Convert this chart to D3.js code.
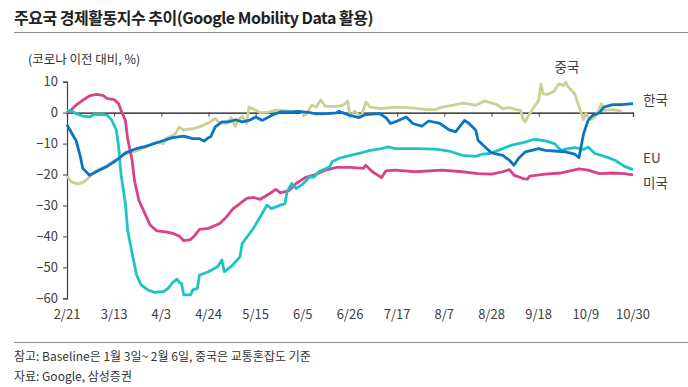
<!DOCTYPE html>
<html>
<head>
<meta charset="utf-8">
<script src="https://cdn.jsdelivr.net/npm/d3@7"></script>
<style>
  html, body { margin: 0; padding: 0; background: #fff; }
  svg { display: block; font-family: "Noto Sans CJK KR", "Noto Sans", sans-serif; }
</style>
</head>
<body>
<script>
// 데이터: [2020-02-21 이후 경과일, 코로나 이전 대비 %]
const startDay = "2020/02/21";

const korea = [
  [0,-3.9],[3,-7.8],[4,-8.9],[6,-14.3],[7,-18],[10,-20.2],[13,-19.1],[18,-17.3],[22,-15.4],[26,-13],
  [31,-11.6],[35,-10.9],[41,-9.5],[47,-8.1],[52,-7.6],[56,-8.4],[59,-8.4],[61,-9.2],[63,-8.1],[64,-7.8],
  [66,-4.6],[69,-3],[72,-3],[75,-2.3],[78,-3],[81,-2.5],[84,-1.4],[87,-2.5],[91,-0.9],[93,-0.3],
  [95,0.2],[99,0.2],[103,0.4],[108,0],[111,-0.4],[116,-0.3],[120,-0.1],[121,0.4],[126,-0.9],[130,-1.6],
  [133,-0.6],[139,-0.3],[142,-1.6],[144,-3.5],[146,-3],[151,-1.4],[154,-3.5],[158,-4.4],[161,-2.7],[166,-3.5],
  [170,-5.5],[173,-6.2],[177,-2.5],[179,-3.5],[182,-5.7],[183,-8.9],[186,-11],[189,-13],[194,-13.8],[197,-15.4],
  [199,-17],[201,-14.8],[204,-12.7],[207,-12.2],[210,-11.6],[213,-12.2],[217,-12.4],[222,-12.7],[226,-13.4],[228,-14.5],
  [229,-10.5],[230,-6.8],[232,-2.5],[234,-0.9],[237,-0.1],[239,1.8],[243,2.6],[247,2.6],[252,2.9]
];

const eu = [
  [0,0.5],[2,0.5],[4,-0.3],[7,-1.1],[10,-1.4],[12,-0.6],[16,-0.6],[18,-0.9],[20,-2.5],[22,-5.7],
  [23,-11.1],[24,-19.7],[26,-29.4],[27,-38],[29,-45.5],[31,-52.5],[33,-55.7],[36,-57.3],[39,-58.1],[43,-57.8],
  [45,-56.8],[47,-54.9],[49,-53.8],[50,-54.9],[51,-55.2],[52,-58.9],[55,-58.9],[56,-57.3],[58,-56.8],[59,-52.5],
  [63,-51.4],[67,-49.8],[69,-47.6],[70,-51.4],[73,-49.8],[77,-46.6],[78,-42.3],[83,-37.4],[86,-33.7],[89,-29.9],
  [91,-31],[95,-29.9],[97,-29.4],[98,-25.6],[100,-22.9],[102,-24.5],[105,-23.1],[108,-20.8],[110,-20.8],[112,-19.1],
  [117,-17.5],[118,-15.9],[121,-14.8],[126,-13.8],[130,-13.2],[135,-12.2],[140,-11.6],[143,-11.1],[146,-11.6],[155,-11.6],
  [164,-11.8],[170,-12.4],[176,-13.8],[182,-14.1],[185,-13.4],[188,-13.2],[192,-12.2],[198,-10.5],[204,-9.5],[208,-8.6],
  [213,-9.1],[217,-10],[220,-12.2],[223,-11.6],[226,-11.3],[230,-11.9],[232,-11.1],[235,-13.2],[240,-14.3],[244,-15.4],
  [248,-17.3],[252,-18.4]
];

const usa = [
  [0,0],[2,1],[4,2.4],[7,4],[10,5.4],[13,5.9],[16,5.6],[18,4.5],[21,4.2],[23,2.9],
  [24,0.8],[26,-2.5],[27,-8.4],[29,-15.4],[30,-21.8],[32,-28.3],[35,-33.1],[37,-36.3],[40,-38.2],[44,-38.5],
  [47,-39],[50,-39.9],[52,-41.4],[55,-41],[57,-39.6],[59,-37.7],[63,-37.4],[68,-35.8],[71,-33.7],[74,-31],
  [77,-29.4],[80,-27.7],[83,-27.4],[86,-28],[90,-26.3],[93,-24.8],[95,-25.9],[99,-25.1],[102,-22.9],[106,-21],
  [111,-19.9],[115,-18.6],[120,-17.7],[126,-17.7],[132,-18],[133,-17],[136,-19.1],[139,-20.5],[140,-21],[142,-18.8],
  [146,-18.6],[155,-19.1],[167,-18.6],[176,-19.1],[183,-19.7],[189,-19.9],[194,-19.1],[197,-18.4],[199,-20.2],[203,-21.3],
  [205,-21.5],[206,-20.5],[213,-19.9],[220,-19.5],[228,-18.2],[232,-18.6],[237,-19.7],[243,-19.5],[248,-19.7],[252,-20.1]
];

const china = [
  [0,-20.5],[2,-22.4],[5,-23.1],[8,-22.2],[10,-20.8],[13,-18.8],[18,-17],[22,-15.2],[26,-13.4],[31,-12.4],
  [35,-11.1],[40,-9.5],[43,-10],[44,-8.4],[48,-7],[50,-4.6],[52,-5.7],[53,-5.4],[56,-5.2],[59,-4.6],
  [63,-3.3],[66,-1.9],[68,-3.3],[71,-3.5],[73,-1.6],[75,-4.4],[76,-2.5],[78,-1.2],[80,-3.5],[81,1.8],
  [84,0.8],[86,0],[90,0.2],[93,0.8],[99,0.5],[104,0.4],[106,-0.9],[109,2.4],[111,1.8],[113,4.2],
  [115,2],[120,2],[123,2.4],[125,3.8],[126,-1.4],[128,0.5],[131,-1.4],[133,3.4],[135,1.8],[140,1.3],
  [146,1.8],[152,1.6],[160,1],[164,1],[167,1.8],[172,2.4],[176,3.1],[182,2.4],[186,3.8],[191,2.7],
  [194,1.3],[197,1.6],[200,1],[202,0.7],[203,-2],[204,-3],[206,-0.3],[208,1.8],[210,4],[211,9.3],
  [212,6.1],[214,5.9],[217,7],[219,9.3],[221,8.8],[222,9.9],[223,8.5],[226,6.1],[228,1.8],[229,-0.3],
  [230,-2.3],[231,-0.3],[233,-2.3],[235,-1.4],[237,1.3],[238,2.9],[239,0.7],[243,1],[247,0.5]
];

const xTickLabels = ["2/21","3/13","4/3","4/24","5/15","6/5","6/26","7/17","8/7","8/28","9/18","10/9","10/30"];
const yTicks = [10, 0, -10, -20, -30, -40, -50, -60];

// 화면 설정
const width = 688, height = 387;
const parse = d3.timeParse("%Y/%m/%d");
const start = parse(startDay);
const tickDates = xTickLabels.map(s => parse("2020/" + s));

const svg = d3.select("body").append("svg")
  .attr("width", width)
  .attr("height", height);

const x = d3.scaleTime()
  .domain([tickDates[0], tickDates[tickDates.length - 1]])
  .range([67, 633]);

const y = d3.scaleLinear()
  .domain([-60, 10])
  .range([298.3, 81.7]);

// 제목
svg.append("text")
  .attr("x", 14).attr("y", 24)
  .attr("font-size", "16px")
  .attr("font-weight", "bold")
  .attr("letter-spacing", "-0.5px")
  .attr("fill", "#222")
  .text("주요국 경제활동지수 추이(Google Mobility Data 활용)");

svg.append("line")
  .attr("x1", 14).attr("x2", 688)
  .attr("y1", 32.5).attr("y2", 32.5)
  .attr("stroke", "#8c8c8c").attr("stroke-width", 1.2);

svg.append("text")
  .attr("x", 28).attr("y", 64)
  .attr("font-size", "12.5px")
  .attr("fill", "#333")
  .text("(코로나 이전 대비, %)");

// y축
const yAxis = svg.append("g")
  .attr("transform", "translate(67,0)")
  .call(d3.axisLeft(y).tickValues(yTicks).tickSize(4).tickPadding(5));
yAxis.select(".domain").attr("stroke", "#404040").attr("stroke-width", 1.2);
yAxis.selectAll(".tick line").attr("stroke", "#404040");
yAxis.selectAll(".tick text")
  .attr("font-family", "'Noto Sans CJK KR', sans-serif")
  .attr("font-size", "13px")
  .attr("fill", "#404040");

// x축 (0선)
const xAxis = svg.append("g")
  .attr("transform", `translate(0,${y(0)})`)
  .call(d3.axisBottom(x).tickValues(tickDates).tickSize(4).tickFormat(""));
xAxis.select(".domain").attr("stroke", "#111").attr("stroke-width", 1.2);
xAxis.selectAll(".tick line").attr("stroke", "#404040");

// x축 라벨
svg.append("g")
  .selectAll("text")
  .data(tickDates)
  .join("text")
  .attr("x", d => x(d))
  .attr("y", 319)
  .attr("text-anchor", "middle")
  .attr("font-size", "13px")
  .attr("fill", "#404040")
  .text((d, i) => xTickLabels[i]);

// 선
const line = d3.line()
  .x(d => x(d3.timeDay.offset(start, d[0])))
  .y(d => y(d[1]));

const series = [
  { data: china, color: "#c9d293" },
  { data: usa, color: "#d9428a" },
  { data: eu, color: "#1dc4c6" },
  { data: korea, color: "#0b74c4" }
];

series.forEach(s => {
  svg.append("path")
    .datum(s.data)
    .attr("fill", "none")
    .attr("stroke", s.color)
    .attr("stroke-width", 2.8)
    .attr("stroke-linejoin", "round")
    .attr("d", line);
});

// 시리즈 라벨
const labels = [
  { text: "중국", x: 567, y: 72, anchor: "middle" },
  { text: "한국", x: 643, y: 105, anchor: "start" },
  { text: "EU", x: 643, y: 163, anchor: "start" },
  { text: "미국", x: 643, y: 188, anchor: "start" }
];
svg.append("g")
  .selectAll("text")
  .data(labels)
  .join("text")
  .attr("x", d => d.x)
  .attr("y", d => d.y)
  .attr("text-anchor", d => d.anchor)
  .attr("font-size", "13.5px")
  .attr("fill", "#404040")
  .text(d => d.text);

// 하단 주석
svg.append("line")
  .attr("x1", 14).attr("x2", 688)
  .attr("y1", 342.5).attr("y2", 342.5)
  .attr("stroke", "#8c8c8c").attr("stroke-width", 1.2);

svg.append("text")
  .attr("x", 14).attr("y", 361)
  .attr("font-size", "12px")
  .attr("fill", "#333")
  .text("참고: Baseline은 1월 3일~ 2월 6일, 중국은 교통혼잡도 기준");

svg.append("text")
  .attr("x", 14).attr("y", 381)
  .attr("font-size", "12px")
  .attr("fill", "#333")
  .text("자료: Google, 삼성증권");
</script>
</body>
</html>
